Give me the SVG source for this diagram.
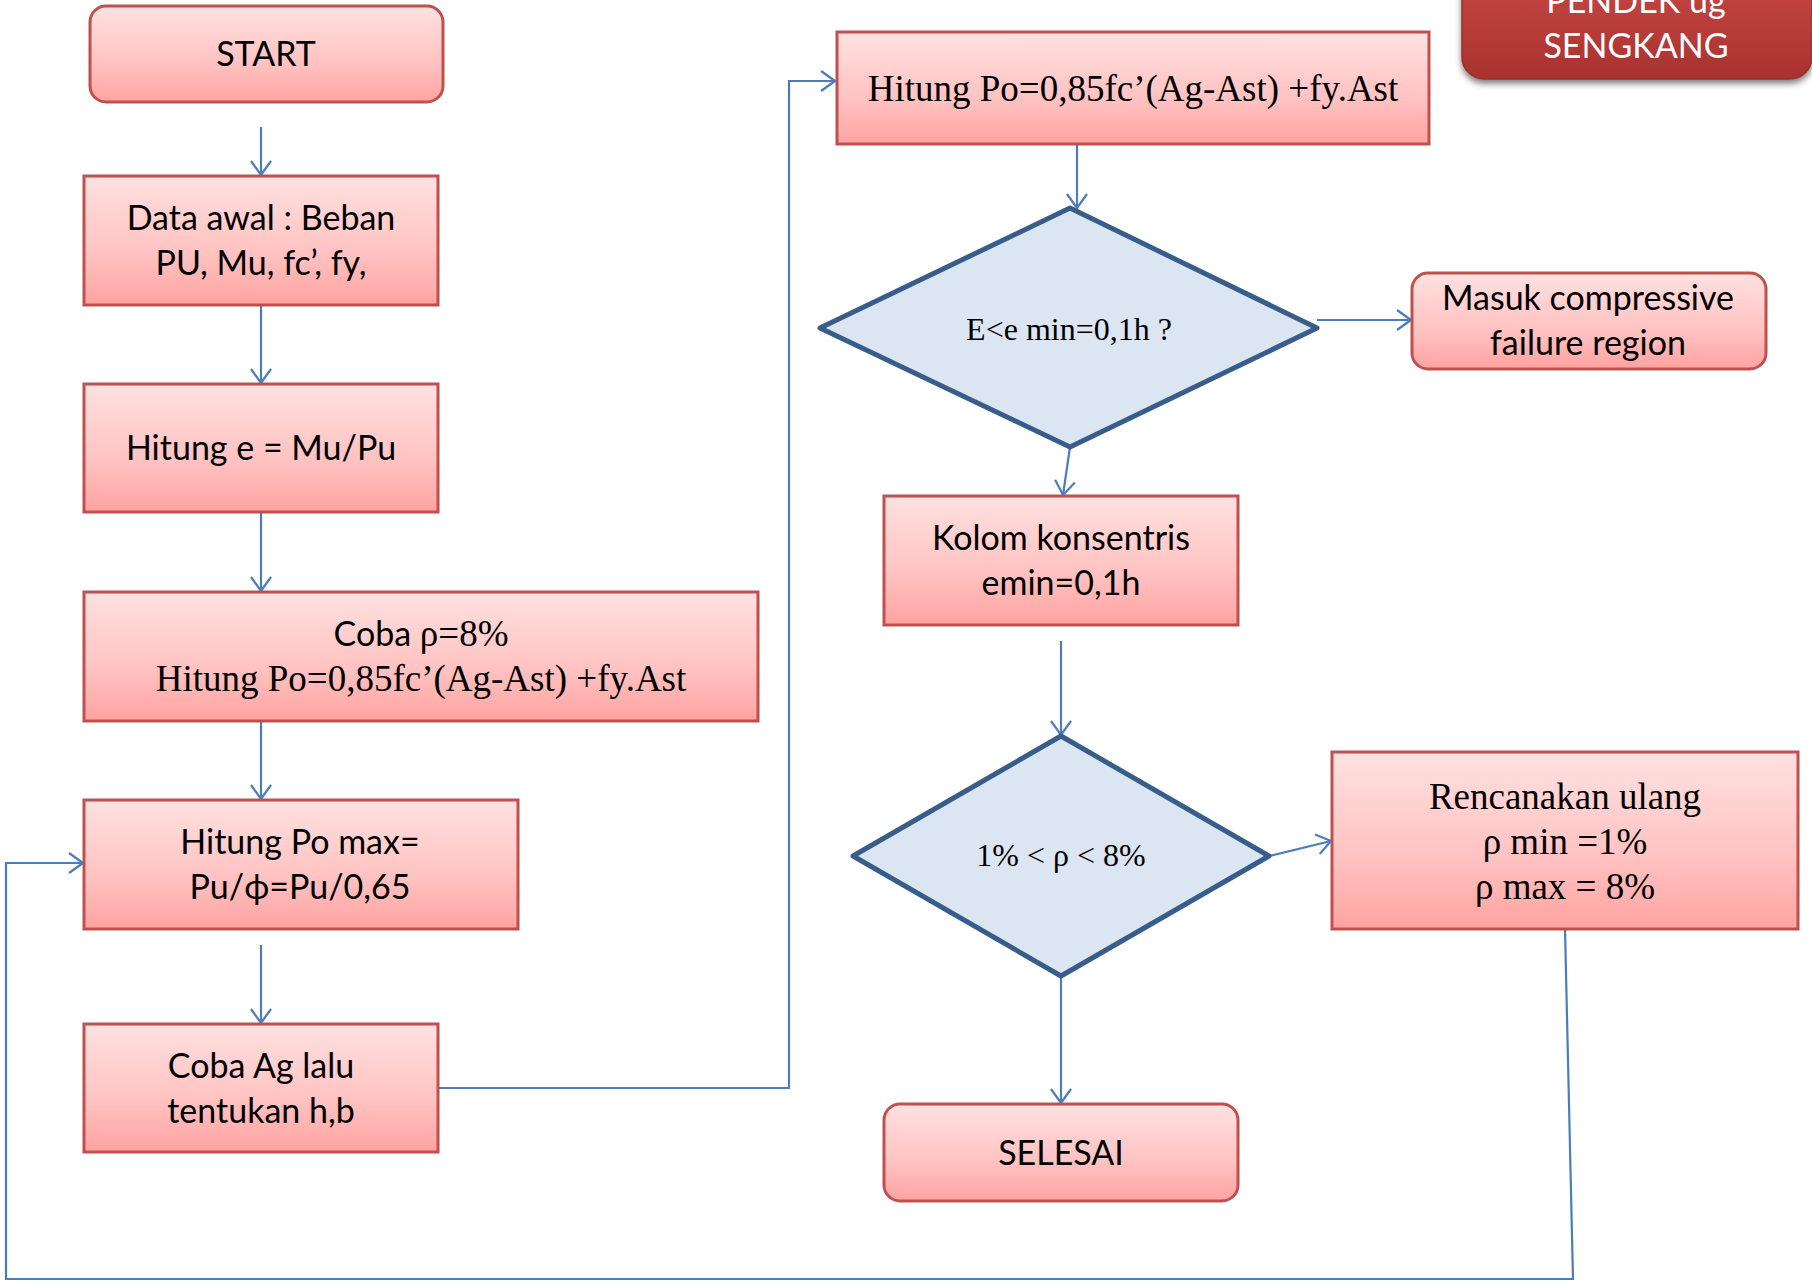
<svg xmlns="http://www.w3.org/2000/svg" width="1812" height="1281" viewBox="0 0 1812 1281">
<defs>
<linearGradient id="pink" x1="0" y1="0" x2="0" y2="1">
<stop offset="0" stop-color="#FFE1E1"/>
<stop offset="0.6" stop-color="#FFC2C1"/>
<stop offset="1" stop-color="#FFA3A1"/>
</linearGradient>
<linearGradient id="darkred" x1="0" y1="0" x2="0" y2="1">
<stop offset="0" stop-color="#C94845"/>
<stop offset="1" stop-color="#A8322F"/>
</linearGradient>
<filter id="shadow" x="-10%" y="-20%" width="120%" height="160%">
<feGaussianBlur in="SourceAlpha" stdDeviation="3"/>
<feOffset dx="0" dy="4" result="b"/>
<feComponentTransfer><feFuncA type="linear" slope="0.5"/></feComponentTransfer>
<feMerge><feMergeNode/><feMergeNode in="SourceGraphic"/></feMerge>
</filter>
<marker id="ah" viewBox="0 0 16 22" refX="15" refY="11" markerWidth="16" markerHeight="22" markerUnits="userSpaceOnUse" orient="auto">
<path d="M1,1 L15,11 L1,21" fill="none" stroke="#4A7EBB" stroke-width="2.2"/>
</marker>
</defs>
<style>
.box{fill:url(#pink);stroke:#C0504D;stroke-width:3}
.dia{fill:#DCE6F2;stroke:#385D8A;stroke-width:5;stroke-linejoin:round}
.con{fill:none;stroke:#4A7EBB;stroke-width:2.2}
.arr{marker-end:url(#ah)}
.sans{font-family:Lato,"Open Sans","Liberation Sans",sans-serif;font-size:34px;fill:#000;text-anchor:middle}
.serif{font-family:"Liberation Serif","Times New Roman",serif;font-size:37px;fill:#000;text-anchor:middle}
.sm{font-size:32px}
.white{font-family:Lato,"Open Sans","Liberation Sans",sans-serif;font-size:34px;fill:#fff;text-anchor:middle}
</style>
<rect width="1812" height="1281" fill="#fff"/>

<g id="connectors">
<line class="con arr" x1="261" y1="127" x2="261" y2="175"/>
<line class="con arr" x1="261" y1="305" x2="261" y2="383"/>
<line class="con arr" x1="261" y1="512" x2="261" y2="591"/>
<line class="con arr" x1="261" y1="721" x2="261" y2="799"/>
<line class="con arr" x1="261" y1="945" x2="261" y2="1023"/>
<polyline class="con arr" points="438,1088 789,1088 789,81 835,81"/>
<line class="con arr" x1="1077" y1="144" x2="1077" y2="208"/>
<line class="con arr" x1="1317" y1="320" x2="1411" y2="320"/>
<line class="con arr" x1="1070" y1="447" x2="1063" y2="495"/>
<line class="con arr" x1="1061" y1="641" x2="1061" y2="735"/>
<line class="con arr" x1="1269" y1="856" x2="1331" y2="841"/>
<line class="con arr" x1="1061" y1="976" x2="1061" y2="1103"/>
<polyline class="con arr" points="1565,929 1573,1279 6,1279 6,863 83,863"/>
</g>

<g id="start">
<rect class="box" x="90" y="6" width="353" height="96" rx="16"/>
<text class="sans" x="266" y="66">START</text>
</g>
<g id="data-awal">
<rect class="box" x="84" y="176" width="354" height="129"/>
<text class="sans" x="261" y="230">Data awal : Beban</text>
<text class="sans" x="261" y="275">PU, Mu, fc’, fy,</text>
</g>
<g id="hitung-e">
<rect class="box" x="84" y="384" width="354" height="128"/>
<text class="sans" x="261" y="460">Hitung e = Mu/Pu</text>
</g>
<g id="coba-rho">
<rect class="box" x="84" y="592" width="674" height="129"/>
<text class="sans" x="421" y="646">Coba <tspan style="font-family:'Liberation Serif','Times New Roman',serif;font-size:37px">ρ=8%</tspan></text>
<text class="serif" x="421" y="691">Hitung Po=0,85fc’(Ag-Ast) +fy.Ast</text>
</g>
<g id="hitung-po-max">
<rect class="box" x="84" y="800" width="434" height="129"/>
<text class="sans" x="300" y="854">Hitung Po max=</text>
<text class="sans" x="300" y="899">Pu/ϕ=Pu/0,65</text>
</g>
<g id="coba-ag">
<rect class="box" x="84" y="1024" width="354" height="128"/>
<text class="sans" x="261" y="1078">Coba Ag lalu</text>
<text class="sans" x="261" y="1123">tentukan h,b</text>
</g>
<g id="hitung-po">
<rect class="box" x="837" y="32" width="592" height="112"/>
<text class="serif" x="1133" y="101">Hitung Po=0,85fc’(Ag-Ast) +fy.Ast</text>
</g>
<g id="decision-e">
<polygon class="dia" points="1070,208 1317,328 1070,447 820,328"/>
<text class="serif sm" x="1069" y="340">E&lt;e min=0,1h ?</text>
</g>
<g id="masuk">
<rect class="box" x="1412" y="273" width="354" height="96" rx="16"/>
<text class="sans" x="1588" y="310">Masuk compressive</text>
<text class="sans" x="1588" y="355">failure region</text>
</g>
<g id="kolom">
<rect class="box" x="884" y="496" width="354" height="129"/>
<text class="sans" x="1061" y="550">Kolom konsentris</text>
<text class="sans" x="1061" y="595">emin=0,1h</text>
</g>
<g id="decision-rho">
<polygon class="dia" points="1061,736 1269,856 1061,976 853,856"/>
<text class="serif sm" x="1061" y="866">1% &lt; ρ &lt; 8%</text>
</g>
<g id="rencanakan">
<rect class="box" x="1332" y="752" width="466" height="177"/>
<text class="serif" x="1565" y="809">Rencanakan ulang</text>
<text class="serif" x="1565" y="854">ρ min =1%</text>
<text class="serif" x="1565" y="899">ρ max = 8%</text>
</g>
<g id="selesai">
<rect class="box" x="884" y="1104" width="354" height="97" rx="16"/>
<text class="sans" x="1061" y="1165">SELESAI</text>
</g>
<g id="title">
<rect x="1462" y="-30" width="350" height="109" rx="22" fill="url(#darkred)" stroke="#9B2D2A" stroke-width="1.5" filter="url(#shadow)"/>
<text class="white" x="1636" y="13">PENDEK ug</text>
<text class="white" x="1636" y="58">SENGKANG</text>
</g>
</svg>
